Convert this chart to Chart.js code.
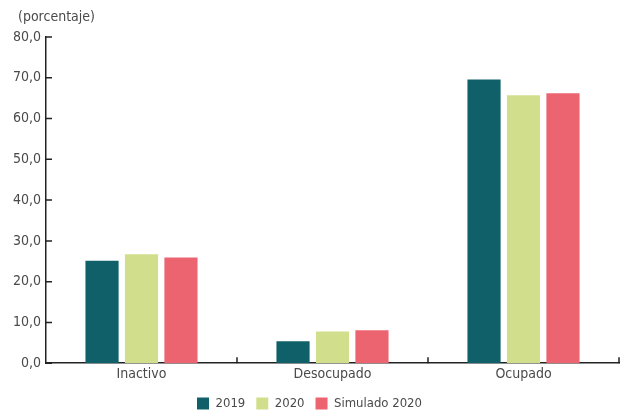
<!DOCTYPE html>
<html>
<head>
<meta charset="utf-8">
<script src="https://cdn.jsdelivr.net/npm/chart.js@4.4.1/dist/chart.umd.min.js"></script>
<style>
  html, body { margin: 0; padding: 0; background: #ffffff; }
  #wrap { width: 621px; height: 413px; }
</style>
</head>
<body>
<div id="wrap"><canvas id="grafico"></canvas></div>
<script>
const categorias = ["Inactivo", "Desocupado", "Ocupado"];
const valores2019 = [25.1, 5.4, 69.6];
const valores2020 = [26.7, 7.8, 65.7];
const valoresSimulado = [25.9, 8.1, 66.2];
const ticksY = [0, 10, 20, 30, 40, 50, 60, 70, 80];
const unidad = "(porcentaje)";

const FUENTE = "'Liberation Sans Narrow', 'DejaVu Sans Condensed', sans-serif";
const GRIS = "#4a4a4a";

// marcas de los ejes hacia adentro y la unidad arriba del eje y
const marcasEjes = {
  id: "marcasEjes",
  afterDraw(chart) {
    const ctx = chart.ctx;
    const y = chart.scales.y;
    const x = chart.scales.x;
    ctx.save();
    ctx.strokeStyle = "#222";
    ctx.lineWidth = 1.5;
    ctx.beginPath();
    ticksY.forEach((v) => {
      const py = y.getPixelForValue(v);
      ctx.moveTo(x.left, py);
      ctx.lineTo(x.left + 6, py);
    });
    const n = categorias.length;
    for (let i = 1; i <= n; i++) {
      const px = x.getPixelForValue(i - 0.5);
      ctx.moveTo(px, y.bottom);
      ctx.lineTo(px, y.bottom - 6);
    }
    ctx.stroke();

    ctx.fillStyle = GRIS;
    ctx.font = "14px " + FUENTE;
    ctx.textAlign = "left";
    ctx.textBaseline = "middle";
    ctx.fillText(unidad, 18, 17);
    ctx.restore();
  },
};

new Chart(document.getElementById("grafico"), {
  type: "bar",
  data: {
    labels: categorias,
    datasets: [
      { label: "2019", data: valores2019, backgroundColor: "#10606a" },
      { label: "2020", data: valores2020, backgroundColor: "#d1df8c" },
      { label: "Simulado 2020", data: valoresSimulado, backgroundColor: "#ec6470" },
    ],
  },
  options: {
    responsive: true,
    maintainAspectRatio: false,
    animation: false,
    layout: { padding: { left: 0, right: 2, top: 37, bottom: -7 } },
    datasets: {
      bar: { categoryPercentage: 0.62, barPercentage: 0.84 },
    },
    scales: {
      x: {
        grid: { display: false, drawTicks: false },
        border: { display: true, color: "#222", width: 1.5 },
        ticks: { color: GRIS, font: { family: FUENTE, size: 14 }, padding: 3 },
      },
      y: {
        min: 0,
        max: 80,
        afterBuildTicks(scale) {
          scale.ticks = ticksY.map((v) => ({ value: v }));
        },
        afterFit(scale) {
          scale.width = 46;
        },
        grid: { display: false, drawTicks: false },
        border: { display: true, color: "#222", width: 1.5 },
        ticks: {
          color: GRIS,
          padding: 5,
          font: { family: FUENTE, size: 14 },
          callback: (v) => v.toFixed(1).replace(".", ","),
        },
      },
    },
    plugins: {
      legend: {
        position: "bottom",
        labels: {
          color: GRIS,
          font: { family: FUENTE, size: 13 },
          boxWidth: 12,
          boxHeight: 12,
          padding: 11,
        },
      },
      tooltip: { enabled: false },
    },
  },
  plugins: [marcasEjes],
});
</script>
</body>
</html>
